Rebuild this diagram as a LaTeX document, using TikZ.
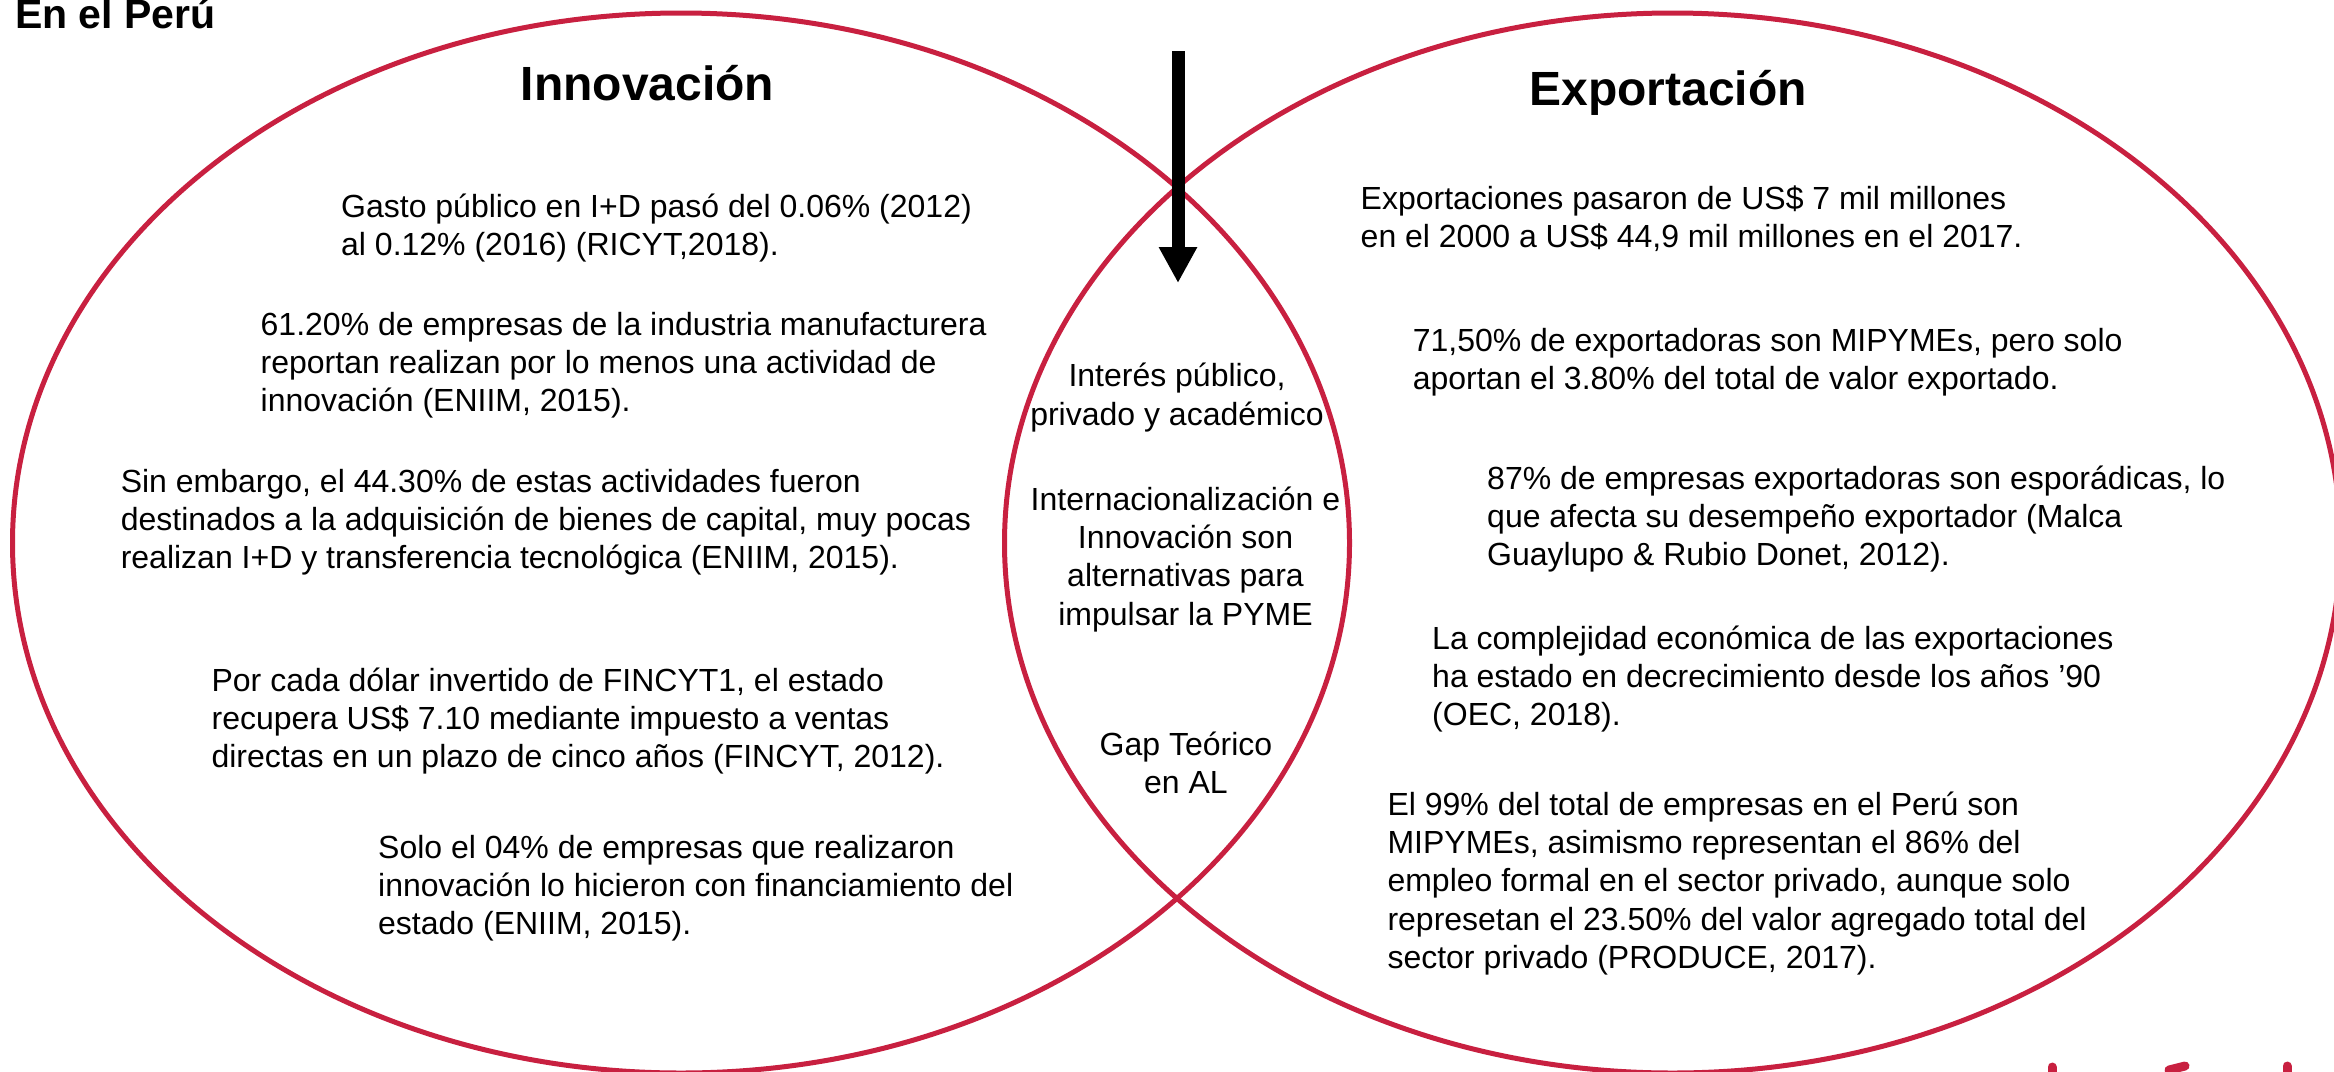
\documentclass[tikz,border=0pt]{standalone}
\usepackage{fontspec}
\setmainfont{Liberation Sans}
\usetikzlibrary{arrows.meta}
\definecolor{vennred}{RGB}{200,32,64}
\begin{document}
\begin{tikzpicture}[x=1pt,y=-1pt,
  vennline/.style={draw=vennred, line width=5pt},
  bodytext/.style={font=\fontsize{32}{38.4}\selectfont, align=left, inner sep=0pt, anchor=base west},
  midtext/.style={font=\fontsize{32}{38.4}\selectfont, align=center, inner sep=0pt, anchor=base},
  titletext/.style={font=\bfseries\fontsize{48}{56}\selectfont, inner sep=0pt, anchor=base},
  bigarrow/.style={line width=13pt, -{Triangle[width=36pt,length=36pt]}},
  logostroke/.style={draw=vennred, line width=9pt, line cap=round}]
\useasboundingbox (0,0) rectangle (2334,1071);
\clip (0,0) rectangle (2334,1071);
% circles
\draw[vennline] (681,543) ellipse [x radius=668.5pt, y radius=530pt];
\draw[vennline] (1672.5,543) ellipse [x radius=668pt, y radius=530pt];
% heading
\node[font=\bfseries\fontsize{41}{49}\selectfont, inner sep=0pt, anchor=base west] (peru) at (15,28) {En el Perú};
% titles
\node[titletext] (tinn) at (647.5,100) {Innovación};
\node[titletext] (texp) at (1668,105) {Exportación};
% arrow
\coordinate (arrs) at (1178,51);
\coordinate (arre) at (1178,283);
\draw[bigarrow] (arrs) -- (arre);
% left texts (anchor = baseline of last line)
\node[bodytext] (l1) at (341,255.4) {Gasto público en I+D pasó del 0.06\% (2012)\\al 0.12\% (2016) (RICYT,2018).};
\node[bodytext] (l2) at (260.5,411.8) {61.20\% de empresas de la industria manufacturera\\reportan realizan por lo menos una actividad de\\innovación (ENIIM, 2015).};
\node[bodytext] (l3) at (120.6,568.8) {Sin embargo, el 44.30\% de estas actividades fueron\\destinados a la adquisición de bienes de capital, muy pocas\\realizan I+D y transferencia tecnológica (ENIIM, 2015).};
\node[bodytext] (l4) at (211.4,767.8) {Por cada dólar invertido de FINCYT1, el estado\\recupera US\$ 7.10 mediante impuesto a ventas\\directas en un plazo de cinco años (FINCYT, 2012).};
\node[bodytext] (l5) at (378,934.8) {Solo el 04\% de empresas que realizaron\\innovación lo hicieron con financiamiento del\\estado (ENIIM, 2015).};
% right texts
\node[bodytext] (r1) at (1360.5,247.4) {Exportaciones pasaron de US\$ 7 mil millones\\en el 2000 a US\$ 44,9 mil millones en el 2017.};
\node[bodytext] (r2) at (1412.6,389.4) {71,50\% de exportadoras son MIPYMEs, pero solo\\aportan el 3.80\% del total de valor exportado.};
\node[bodytext] (r3) at (1487,565.8) {87\% de empresas exportadoras son esporádicas, lo\\que afecta su desempeño exportador (Malca\\Guaylupo \& Rubio Donet, 2012).};
\node[bodytext] (r4) at (1432,725.8) {La complejidad económica de las exportaciones\\ha estado en decrecimiento desde los años ’90\\(OEC, 2018).};
\node[bodytext] (r5) at (1387.3,968.6) {El 99\% del total de empresas en el Perú son\\MIPYMEs, asimismo representan el 86\% del\\empleo formal en el sector privado, aunque solo\\represetan el 23.50\% del valor agregado total del\\sector privado (PRODUCE, 2017).};
% middle texts
\node[midtext] (c1) at (1177,425.1) {Interés público,\\privado y académico};
\node[midtext] (c2) at (1185.5,625.2) {Internacionalización e\\Innovación son\\alternativas para\\impulsar la PYME};
\node[midtext] (c3) at (1186,793.4) {Gap Teórico\\en AL};
% cut-off logo fragments
\draw[logostroke] (2052,1067) -- (2052,1085);
\draw[logostroke] (2169,1070) -- (2185,1066);
\draw[logostroke] (2287,1066) -- (2287,1085);
\end{tikzpicture}
\end{document}
